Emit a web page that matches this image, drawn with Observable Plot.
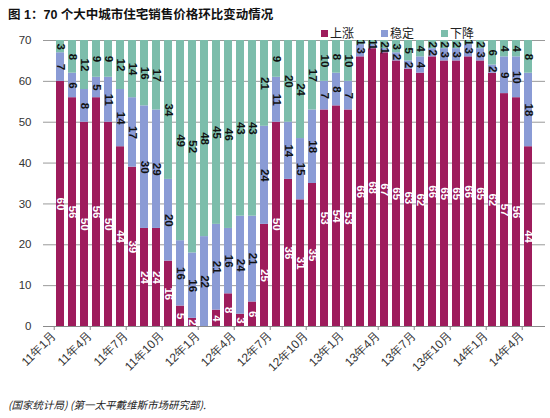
<!DOCTYPE html>
<html>
<head>
<meta charset="utf-8">
<script src="https://cdn.jsdelivr.net/npm/d3@7"></script>
<script src="https://cdn.jsdelivr.net/npm/@observablehq/plot@0.6"></script>
<style>
  html, body { margin: 0; padding: 0; background: #fff; }
  #wrap { position: relative; width: 550px; height: 418px; overflow: hidden; font-family: "Liberation Sans", Arial, "Noto Sans CJK SC", sans-serif; }
  #title { position: absolute; left: 8px; top: 4px; font-size: 12.5px; font-weight: bold; color: #111; font-family: "Liberation Sans", "Noto Sans CJK SC", sans-serif; white-space: nowrap; }
  #legend { position: absolute; top: 24px; left: 321px; font-size: 12px; color: #222; white-space: nowrap; font-family: "Noto Sans CJK SC", sans-serif; }
  #legend span.item { display: inline-block; margin-right: 27px; }
  #legend span.sw { display: inline-block; width: 7px; height: 7px; margin-right: 2px; vertical-align: 1px; }
  #caption { position: absolute; left: 8px; top: 397px; font-size: 10.5px; font-style: italic; color: #222; font-family: "Noto Sans CJK SC", sans-serif; white-space: nowrap; }
  #chart { position: absolute; left: 0; top: 0; }
</style>
</head>
<body>
<div id="wrap">
  <div id="chart"></div>
  <div id="title"></div>
  <div id="legend"></div>
  <div id="caption"></div>
</div>
<script>
const titleText = "图 1：70 个大中城市住宅销售价格环比变动情况";
const captionText = "(国家统计局) (第一太平戴维斯市场研究部).";

const months = [
  "11年1月","11年2月","11年3月","11年4月","11年5月","11年6月","11年7月","11年8月","11年9月","11年10月","11年11月","11年12月",
  "12年1月","12年2月","12年3月","12年4月","12年5月","12年6月","12年7月","12年8月","12年9月","12年10月","12年11月","12年12月",
  "13年1月","13年2月","13年3月","13年4月","13年5月","13年6月","13年7月","13年8月","13年9月","13年10月","13年11月","13年12月",
  "14年1月","14年2月","14年3月","14年4月"
];
const tickMonths = ["11年1月","11年4月","11年7月","11年10月","12年1月","12年4月","12年7月","12年10月","13年1月","13年4月","13年7月","13年10月","14年1月","14年4月"];

const types = ["上涨", "稳定", "下降"];
const colors = ["#9E1C5C", "#8A9BD5", "#7CBDAB"];

const up     = [60,56,50,56,50,44,39,24,24,16, 5, 2, 0, 4, 8, 3, 6,25,50,36,31,35,53,54,53,66,68,67,65,63,62,66,65,65,66,65,62,57,56,44];
const stable = [ 7, 6, 8, 5,11,14,17,30,29,20,16,16,22,21,16,24,21,24,11,14,15,18, 7, 8, 7, 3, 1, 1, 2, 2, 4, 2, 3, 3, 3, 3, 2, 9,10,18];
const down   = [ 3, 8,12, 9, 9,12,14,16,17,34,49,52,48,45,46,43,43,21, 9,20,24,17,10, 8,10, 1, 1, 2, 3, 5, 4, 2, 2, 2, 1, 2, 6, 4, 4, 8];

const yTicks = [0,10,20,30,40,50,60,70];

const series = [up, stable, down];
const data = [];
months.forEach((m, i) => {
  types.forEach((t, k) => data.push({month: m, type: t, value: series[k][i]}));
});

const W = 550, H = 418;
const mL = 43, mR = 5, mT = 40, mB = 92;
const step = (W - mL - mR) / (months.length - 0.3 + 0.3);
const font = '"Liberation Sans", Arial, sans-serif';

const stackOpts = {x: "month", y: "value", z: "type", order: types};

const plot = Plot.plot({
  width: W,
  height: H,
  marginLeft: mL,
  marginRight: mR,
  marginTop: mT,
  marginBottom: mB,
  style: {fontFamily: font, background: "transparent"},
  x: {domain: months, paddingInner: 0.3, paddingOuter: 0.15, label: null},
  y: {domain: [0, 70], label: null},
  color: {domain: types, range: colors},
  marks: [
    Plot.gridY(yTicks, {stroke: "#9a9a9a", strokeOpacity: 1, strokeWidth: 1}),
    Plot.barY(data, Plot.stackY({...stackOpts, fill: "type"})),
    Plot.text(data, Plot.stackY({...stackOpts, text: d => (d.type === "上涨" && d.value > 0) ? String(d.value) : "", rotate: 90, fill: "white", fontWeight: "bold", fontSize: 11.5})),
    Plot.text(data, Plot.stackY({...stackOpts, text: d => (d.type !== "上涨" && d.value > 0) ? String(d.value) : "", rotate: 90, fill: "#111", fontWeight: "bold", fontSize: 11.5})),
    Plot.ruleY([0], {stroke: "#8a8a8a"}),
    Plot.axisY({ticks: yTicks, tickSize: 0, tickPadding: 12, fontSize: 11.5, fill: "#333", label: null}),
    Plot.axisX({ticks: tickMonths, tickSize: 4, stroke: "#8a8a8a", tickRotate: -45, dx: -step / 2, fontSize: 12, fill: "#333", tickPadding: 3, label: null})
  ]
});
document.getElementById("chart").appendChild(plot);

document.getElementById("title").textContent = titleText;
document.getElementById("caption").textContent = captionText;
const legend = document.getElementById("legend");
types.forEach((t, k) => {
  const item = document.createElement("span");
  item.className = "item";
  const sw = document.createElement("span");
  sw.className = "sw";
  sw.style.background = colors[k];
  item.appendChild(sw);
  item.appendChild(document.createTextNode(t));
  legend.appendChild(item);
});
</script>
</body>
</html>
